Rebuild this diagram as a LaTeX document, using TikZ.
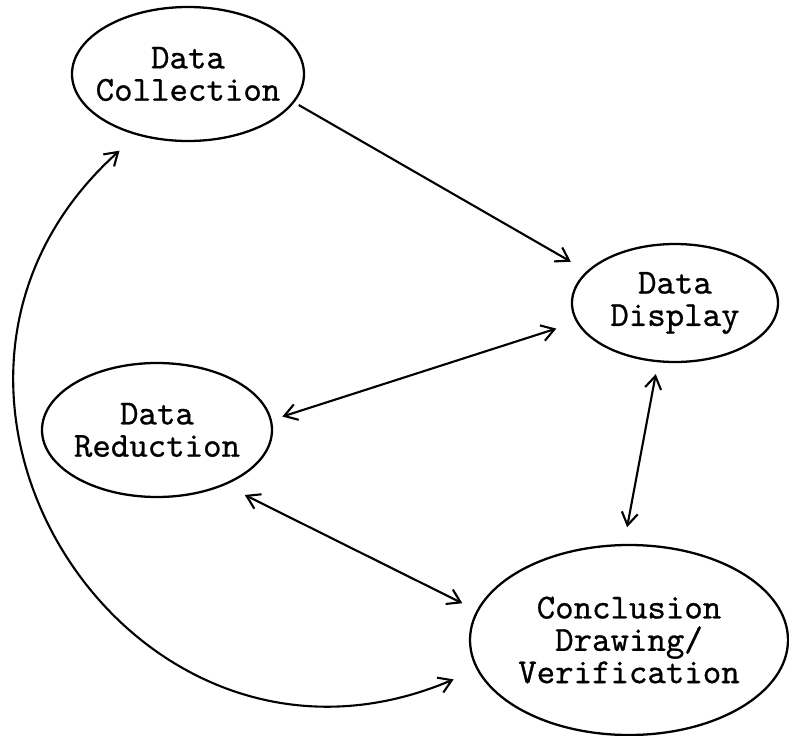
\documentclass[tikz,border=0pt]{standalone}
\usepackage{fontspec}
\newfontfamily\typewriter{lmmono10-regular.otf}[FakeBold=0.7]
\usepackage{tikz}
\usetikzlibrary{shapes.geometric, arrows.meta}
\usetikzlibrary{positioning}
\tikzstyle{stage} = [ellipse, draw=black, line width=1.3pt, inner xsep=-0.3cm, align=center, font=\typewriter\fontsize{20pt}{18.4pt}\selectfont]
\tikzstyle{arrow} = [line width=1.2pt,->,>={Straight Barb[angle=65:0.3cm]}]

\begin{document}
\begin{tikzpicture}
 \useasboundingbox (-3.76,1.48) rectangle (12.02,-13.24);
 \node[stage, minimum width=4.64cm, minimum height=2.68cm] (coll)
              {Data\\Collection};
 \node[stage, minimum width=4.12cm, minimum height=2.36cm] (disp) at (coll) [xshift=9.74cm,yshift=-4.58cm]
              {Data\\Display};
 \node[stage, minimum width=4.60cm, minimum height=2.68cm] (red) at (coll) [xshift=-0.62cm,yshift=-7.12cm]
              {Data\\Reduction};
 \node[stage, minimum width=6.36cm, minimum height=3.80cm] (concl) at (disp) [xshift=-0.92cm,yshift=-6.74cm]
              {Conclusion\\Drawing/\\Verification};
% arrows
 \draw[arrow,shorten <=0.1cm,shorten >=0.37cm] (coll.-15) -- (disp.160);
 \draw[arrow,<->,shorten <=0.42cm,shorten >=0.22cm] (disp.191) -- (red.5);
 \draw[arrow,<->,shorten <=0.24cm,shorten >=0.34cm] (disp.254) -- (concl.93);
 \draw[arrow,<->,shorten <=0.44cm,shorten >=0.32cm] (red.-39) -- (concl.169);
 \draw[arrow,<->,shorten <=0.46cm,shorten >=0.5cm] (coll.230)
                     to[out=222,in=203,looseness=1.52] (concl.191);
\end{tikzpicture}
\end{document}
